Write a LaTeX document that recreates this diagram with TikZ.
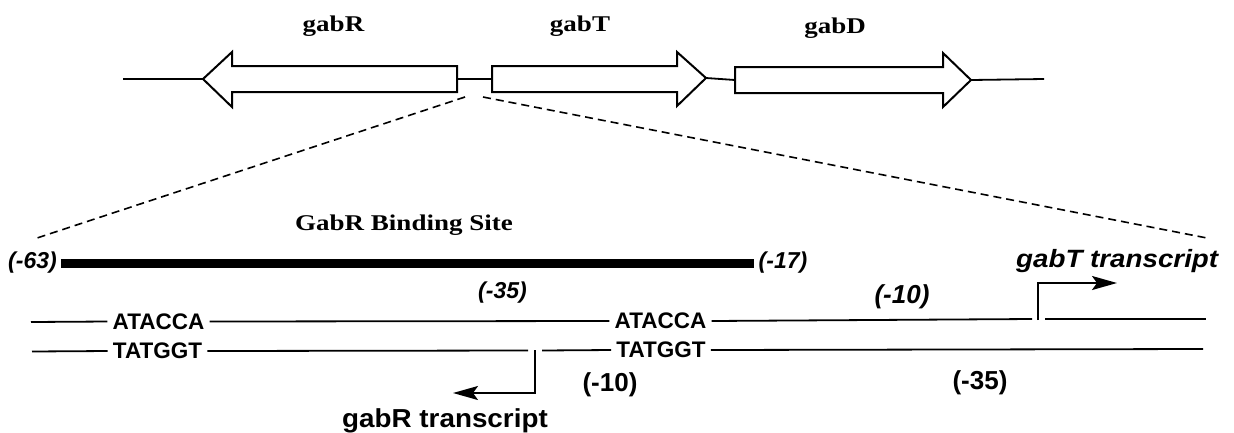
\documentclass[tikz,border=0pt]{standalone}
\usepackage{fontspec}
\setmainfont{Liberation Serif}
\setsansfont{Liberation Sans}
\usepackage{graphicx}
\usetikzlibrary{arrows.meta}
\newcommand{\sx}[3]{\scalebox{#1}[1]{\fontsize{#2}{#2}\selectfont #3}}
\begin{document}
\begin{tikzpicture}[x=1pt,y=-1pt,
  gene/.style={draw, line width=2pt, line join=miter, fill=white},
  wire/.style={line width=1.8pt},
  strand/.style={line width=1.8pt},
  zoomline/.style={line width=1.6pt, dash pattern=on 8pt off 5pt},
  bar/.style={line width=9pt},
  genelabel/.style={inner sep=0pt, font=\rmfamily\bfseries},
  seq/.style={inner xsep=5pt, inner ysep=0pt, font=\sffamily\bfseries\fontsize{22.5}{22.5}\selectfont},
  plabel/.style={inner sep=0pt, font=\sffamily\bfseries},
  iplabel/.style={inner sep=0pt, font=\sffamily\bfseries\itshape},
  promoter/.style={line width=1.8pt, -{Stealth[length=25pt,width=14pt,inset=5pt]}}
]
\useasboundingbox (0,0) rectangle (1234,432);

% ---------- gene map ----------
\coordinate (L0) at (123,79);
\coordinate (Rtip) at (203,79);
\coordinate (Rend) at (457,79);
\coordinate (Tstart) at (492,79);
\coordinate (Ttip) at (706,78);
\coordinate (Dstart) at (735,80);
\coordinate (Dtip) at (971,80);
\coordinate (E0) at (1044,79);

\draw[wire] (L0) -- (Rtip);
\draw[wire] (Rend) -- (Tstart);
\draw[wire] (Ttip) -- (Dstart);
\draw[wire] (Dtip) -- (E0);

\draw[gene] (Rtip) -- (232,52) -- (232,66) -- (457,66) -- (457,92) -- (232,92) -- (232,107) -- cycle;
\draw[gene] (492,66) -- (677,66) -- (677,52) -- (Ttip) -- (677,106) -- (677,92) -- (492,92) -- cycle;
\draw[gene] (735,67) -- (943,67) -- (943,53) -- (Dtip) -- (943,107) -- (943,93) -- (735,93) -- cycle;

\node[genelabel] (gabR) at (333.5,26) {\sx{1.2}{22.5}{gabR}};
\node[genelabel] (gabT) at (580,26) {\sx{1.2}{22.5}{gabT}};
\node[genelabel] (gabD) at (835,28) {\sx{1.2}{22.5}{gabD}};

% ---------- zoom lines ----------
\coordinate (zl1) at (465,97);
\coordinate (zl2) at (37,238);
\coordinate (zr1) at (483,97);
\coordinate (zr2) at (1207,238);
\draw[zoomline] (zl1) -- (zl2);
\draw[zoomline] (zr1) -- (zr2);

% ---------- binding site ----------
\node[genelabel] (site) at (404,225) {\sx{1.2}{22.5}{GabR Binding Site}};
\node[iplabel] (m63) at (32.5,263) {\sx{1}{23}{(-63)}};
\node[iplabel] (m17) at (783,263) {\sx{1}{23}{(-17)}};
\draw[bar] (m63.east) ++(4,0) coordinate (b1) -- (754,263) coordinate (b2);

% ---------- top strand ----------
\coordinate (t0) at (31,322);
\node[seq] (ata1) at (158.5,321.5) {ATACCA};
\node[seq] (ata2) at (660.5,321) {ATACCA};
\coordinate (t3) at (1032,319);
\coordinate (t4) at (1045,319);
\coordinate (t5) at (1206,319);
\draw[strand] (t0) -- (ata1.west);
\draw[strand] (ata1.east) -- (ata2.west);
\draw[strand] (ata2.east) -- (t3);
\draw[strand] (t4) -- (t5);

% ---------- bottom strand ----------
\coordinate (u0) at (32,351.5);
\node[seq] (tat1) at (157.5,351) {TATGGT};
\coordinate (u2) at (528,350.5);
\coordinate (u3) at (542,350.5);
\node[seq] (tat2) at (661,350) {TATGGT};
\coordinate (u5) at (1203,349);
\draw[strand] (u0) -- (tat1.west);
\draw[strand] (tat1.east) -- (u2);
\draw[strand] (u3) -- (tat2.west);
\draw[strand] (tat2.east) -- (u5);

% ---------- promoters ----------
\coordinate (pR) at (535,350);
\coordinate (pRend) at (453,393);
\draw[promoter] (pR) |- (pRend);
\coordinate (pT) at (1038,320);
\coordinate (pTend) at (1117,283);
\draw[promoter] (pT) |- (pTend);

\node[plabel, anchor=base east] (gabRt) at (548,427) {\sx{1.07}{26}{gabR transcript}};
\node[iplabel, anchor=base west] (gabTt) at (1016,267) {\sx{1.11}{25}{gabT transcript}};

% ---------- position labels ----------
\node[iplabel] (m35a) at (502.5,293) {\sx{1}{23}{(-35)}};
\node[iplabel] (m10a) at (902,297) {\sx{1}{26}{(-10)}};
\node[plabel] (m10b) at (610,385) {\sx{1}{26}{(-10)}};
\node[plabel] (m35b) at (980,383) {\sx{1}{26}{(-35)}};
\end{tikzpicture}
\end{document}
